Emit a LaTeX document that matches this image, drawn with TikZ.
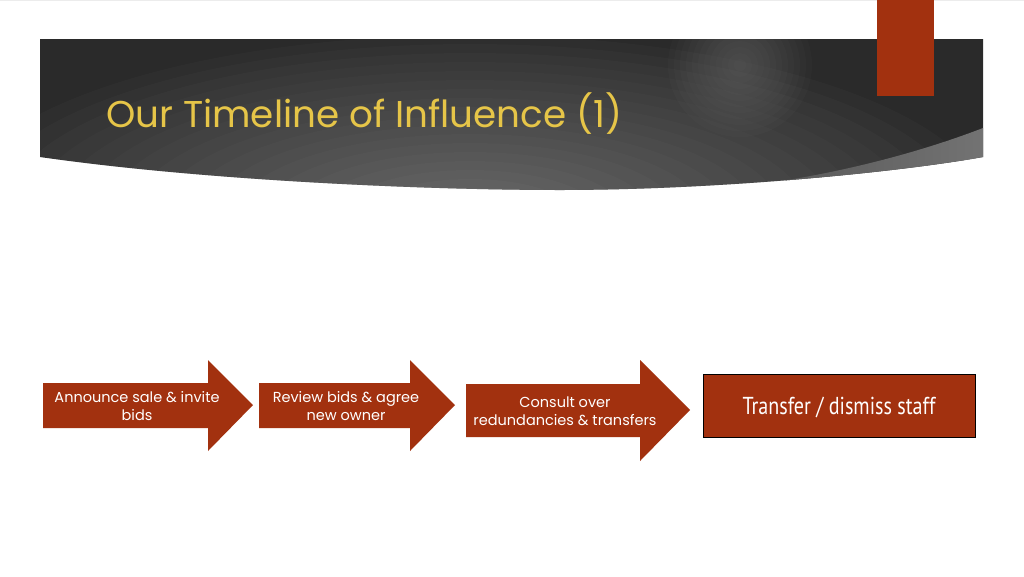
\documentclass[tikz,border=0pt]{standalone}
\usepackage{fontspec}
\setmainfont{Poppins}
\definecolor{rust}{HTML}{A2310F}
\definecolor{gold}{HTML}{E6C548}
\definecolor{bandark}{HTML}{2A2A2A}
\begin{document}
\begin{tikzpicture}[x=1pt,y=-1pt,
  arrowshape/.style={fill=rust},
  arrowtext/.style={text=white,font=\fontsize{14.5}{18}\selectfont,align=center,inner sep=0pt},
  boxtext/.style={text=white,inner sep=0pt}]
\useasboundingbox (0,0) rectangle (1024,576);
\fill[white] (0,0) rectangle (1024,576);
\draw[gray!15,line width=1pt] (0,0.5) -- (1024,0.5);
% banner
\begin{scope}
\clip (40,39) -- (983,39) -- (983,157) .. controls (900,172) and (720,190) .. (560,190)
  .. controls (420,190) and (200,180) .. (40,157) -- cycle;
\fill[bandark] (0,0) rectangle (1024,200);
\foreach \r in {20,40,...,400} {
  \fill[white,opacity=0.018] (470,215) ellipse ({\r*1.3} and {\r*0.45});
}
\foreach \r in {6,12,...,72} {
  \fill[white,opacity=0.014] (740,65) circle (\r);
}
\shade[left color=black!68,right color=black!55]
  (983,128) .. controls (900,160) and (800,182) .. (715,189)
  .. controls (850,182) and (930,166) .. (983,157) -- cycle;
\end{scope}
% red tab
\fill[rust] (877,0) rectangle (934,96);
\node[anchor=base west,text=gold,inner sep=0pt] (title) at (106,127)
  {\resizebox{516pt}{!}{Our Timeline of Influence (1)}};
% arrows
\fill[arrowshape] (43,383) -- (208,383) -- (208,360) -- (253,405) -- (208,451) -- (208,428) -- (43,428) -- cycle;
\fill[arrowshape] (259,383) -- (410,383) -- (410,360) -- (455,405) -- (410,451) -- (410,428) -- (259,428) -- cycle;
\fill[arrowshape] (466,384) -- (640,384) -- (640,360) -- (690,410) -- (640,461) -- (640,437) -- (466,437) -- cycle;
\node[arrowtext] (a1) at (137,406) {Announce sale \& invite\\bids};
\node[arrowtext] (a2) at (346,406) {Review bids \& agree\\new owner};
\node[arrowtext] (a3) at (565,411) {Consult over\\redundancies \& transfers};
\node[draw=black,line width=1.5pt,fill=rust,minimum width=272pt,minimum height=63pt,inner sep=0pt] (box) at (839.5,406) {};
\node[boxtext] (t4) at (839,407) {\resizebox{193pt}{!}{\fontspec{PT Sans}\scalebox{0.82}[1]{Transfer / dismiss staff}}};
\end{tikzpicture}
\end{document}
